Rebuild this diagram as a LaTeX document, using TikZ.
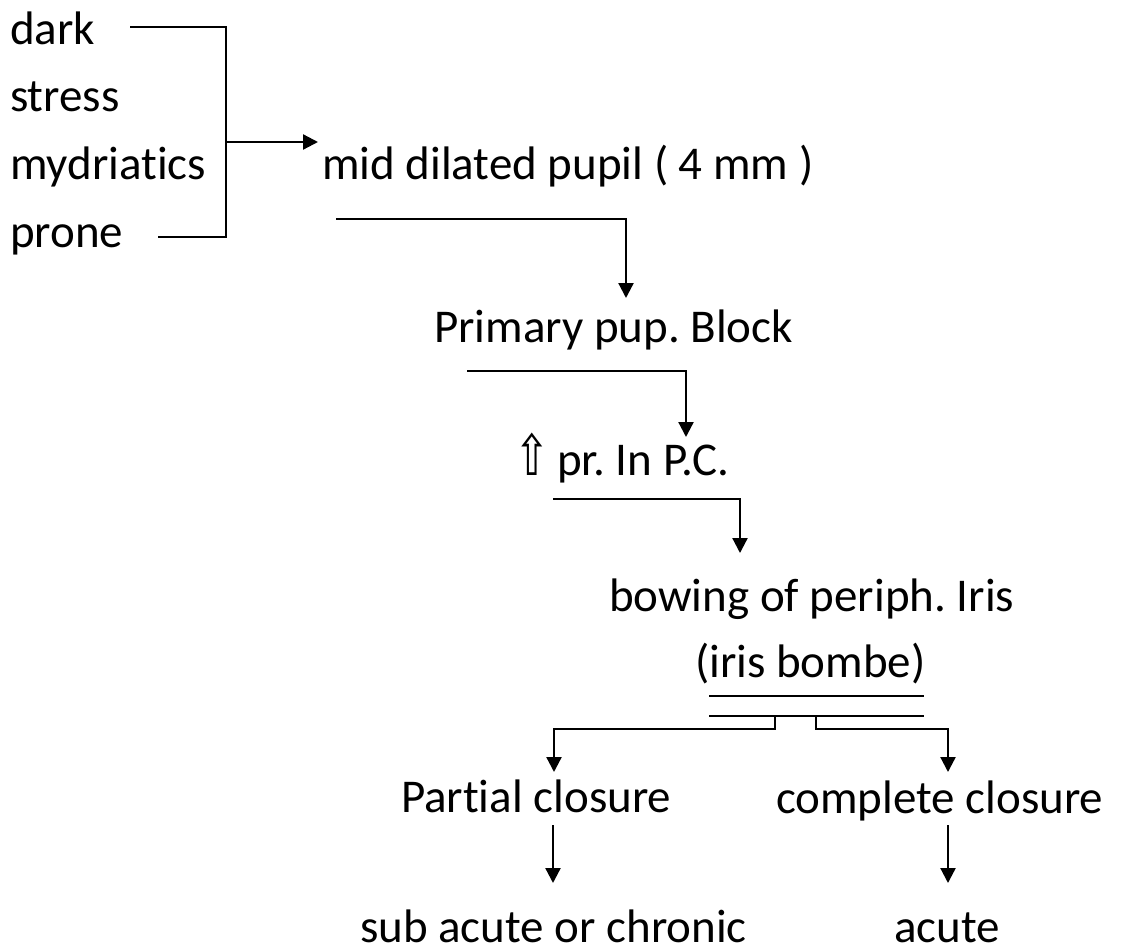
\documentclass[tikz,border=0pt]{standalone}
\usepackage{fontspec}
\setmainfont{Carlito}[Ligatures=NoCommon]
\newfontfamily\symfont{DejaVu Sans}
\usetikzlibrary{arrows.meta}
\frenchspacing
\begin{document}
\begin{tikzpicture}[x=1pt,y=-1pt,
  lbl/.style={anchor=base west,inner sep=0pt,outer sep=0pt,font=\fontsize{47}{56}\selectfont\frenchspacing},
  ln/.style={line width=2.3pt},
  arr/.style={line width=2.3pt,-{Triangle[length=15pt,width=15pt]}}]
\useasboundingbox (0,0) rectangle (1121,952);
% text nodes
\node[lbl] (dark) at (10,45) {dark};
\node[lbl] (stress) at (10,112) {stress};
\node[lbl] (myd) at (10,180) {mydriatics};
\node[lbl] (prone) at (10,247) {prone};
\node[lbl] (mid) at (322,180) {mid dilated pupil ( 4 mm )};
\node[lbl] (prim) at (434,342) {Primary pup. Block};
\node[lbl] (pr) at (514,475) {\scalebox{0.9}[1.2]{\symfont ⇧}\hspace{-3pt} pr. In P.C.};
\node[lbl] (bow) at (609,611) {bowing of periph. Iris};
\node[lbl] (iris) at (695,677) {(iris bombe)};
\node[lbl] (part) at (401,812) {Partial closure};
\node[lbl] (comp) at (776,813) {complete closure};
\node[lbl] (sub) at (360,942) {sub acute or chronic};
\node[lbl] (acute) at (894,942) {acute};
% coordinates
\coordinate (dA) at (130,27);
\coordinate (pA) at (158,237);
\coordinate (bj) at (226,142);
\coordinate (midT) at (318,142);
\coordinate (l1) at (336,219);
\coordinate (primT) at (626,298);
\coordinate (l2) at (467,371);
\coordinate (prT) at (686,437);
\coordinate (l3) at (553,499);
\coordinate (bowT) at (740,553);
\coordinate (u1a) at (709,696);
\coordinate (u1b) at (924,696);
\coordinate (u2a) at (709,716);
\coordinate (u2b) at (924,716);
\coordinate (sL) at (775,716);
\coordinate (sR) at (816,716);
\coordinate (partT) at (554,772);
\coordinate (compT) at (948,772);
\coordinate (pS) at (553,825);
\coordinate (subT) at (553,883);
\coordinate (cS) at (948,825);
\coordinate (acuteT) at (948,883);
% connectors
\draw[ln] (dA) -- (226,27) -- (226,237) -- (pA);
\draw[arr] (bj) -- (midT);
\draw[arr] (l1) -| (primT);
\draw[arr] (l2) -| (prT);
\draw[arr] (l3) -| (bowT);
\draw[ln] (u1a) -- (u1b);
\draw[ln] (u2a) -- (u2b);
\draw[arr] (sL) -- (775,729) -| (partT);
\draw[arr] (sR) -- (816,729) -| (compT);
\draw[arr] (pS) -- (subT);
\draw[arr] (cS) -- (acuteT);
\end{tikzpicture}
\end{document}
